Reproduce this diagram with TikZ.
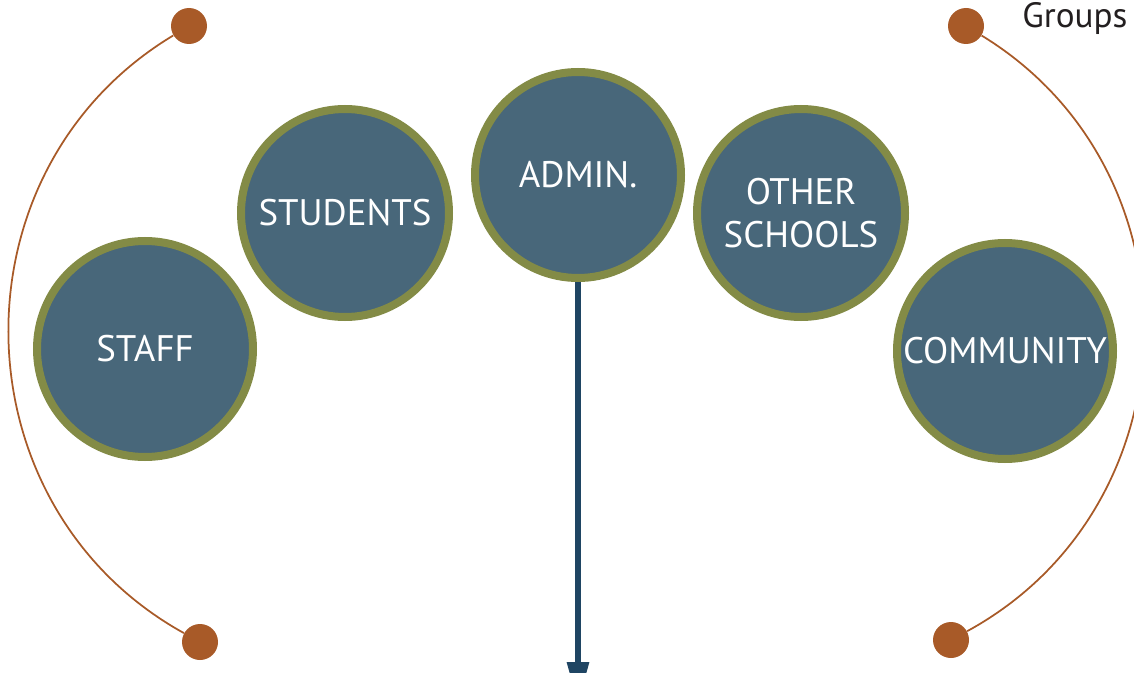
\documentclass[tikz,border=0pt]{standalone}
\usepackage{fontspec}
\setmainfont{PT Sans}
\usetikzlibrary{arrows.meta}
\definecolor{ringgreen}{RGB}{131,139,70}
\definecolor{discblue}{RGB}{72,103,122}
\definecolor{rust}{RGB}{168,90,40}
\definecolor{navy}{RGB}{31,69,99}
\definecolor{ink}{RGB}{35,31,32}
\begin{document}
\begin{tikzpicture}[
		group/.style={circle, draw=ringgreen, line width=0.16cm, fill=discblue, text=white, inner sep=0pt, align=center, font=\fontsize{21}{24}\selectfont},
		dot/.style={circle, fill=rust, minimum size=0.72cm, inner sep=0pt},
		bow/.style={draw=rust, line width=0.035cm}
	]
		\useasboundingbox (0,0) rectangle (22.68,13.44);
		\node[group, minimum size=4.32cm] (staff) at (2.90,6.46) {STAFF};
		\node[group, minimum size=4.16cm] (students) at (6.90,9.18) {STUDENTS};
		\node[group, minimum size=4.12cm] (admin) at (11.56,9.94) {ADMIN.};
		\node[group, minimum size=4.16cm] (other) at (16.02,9.18) {OTHER\\SCHOOLS};
		\node[group, minimum size=4.32cm] (community) at (20.10,6.42) {COMMUNITY};
		\foreach \n/\x/\y in {lt/3.78/12.92, lb/4.00/0.60, rt/19.32/12.92, rb/19.02/0.64} {
			\node[dot] (\n) at (\x,\y) {};
		}
		\draw[bow] (lt) to[bend right=60, looseness=1.12] (lb);
		\draw[bow] (rt) to[bend left=60, looseness=1.12] (rb);
		\node[anchor=base west, inner sep=0pt, text=ink, font=\fontsize{20}{24}\selectfont] (groups) at (20.44,12.88) {Groups};
		\coordinate (tip) at (11.56,-0.64);
		\draw[navy, line width=0.12cm, -{Triangle[width=0.42cm, length=0.84cm]}] (admin) -- (tip);
	\end{tikzpicture}
\end{document}
